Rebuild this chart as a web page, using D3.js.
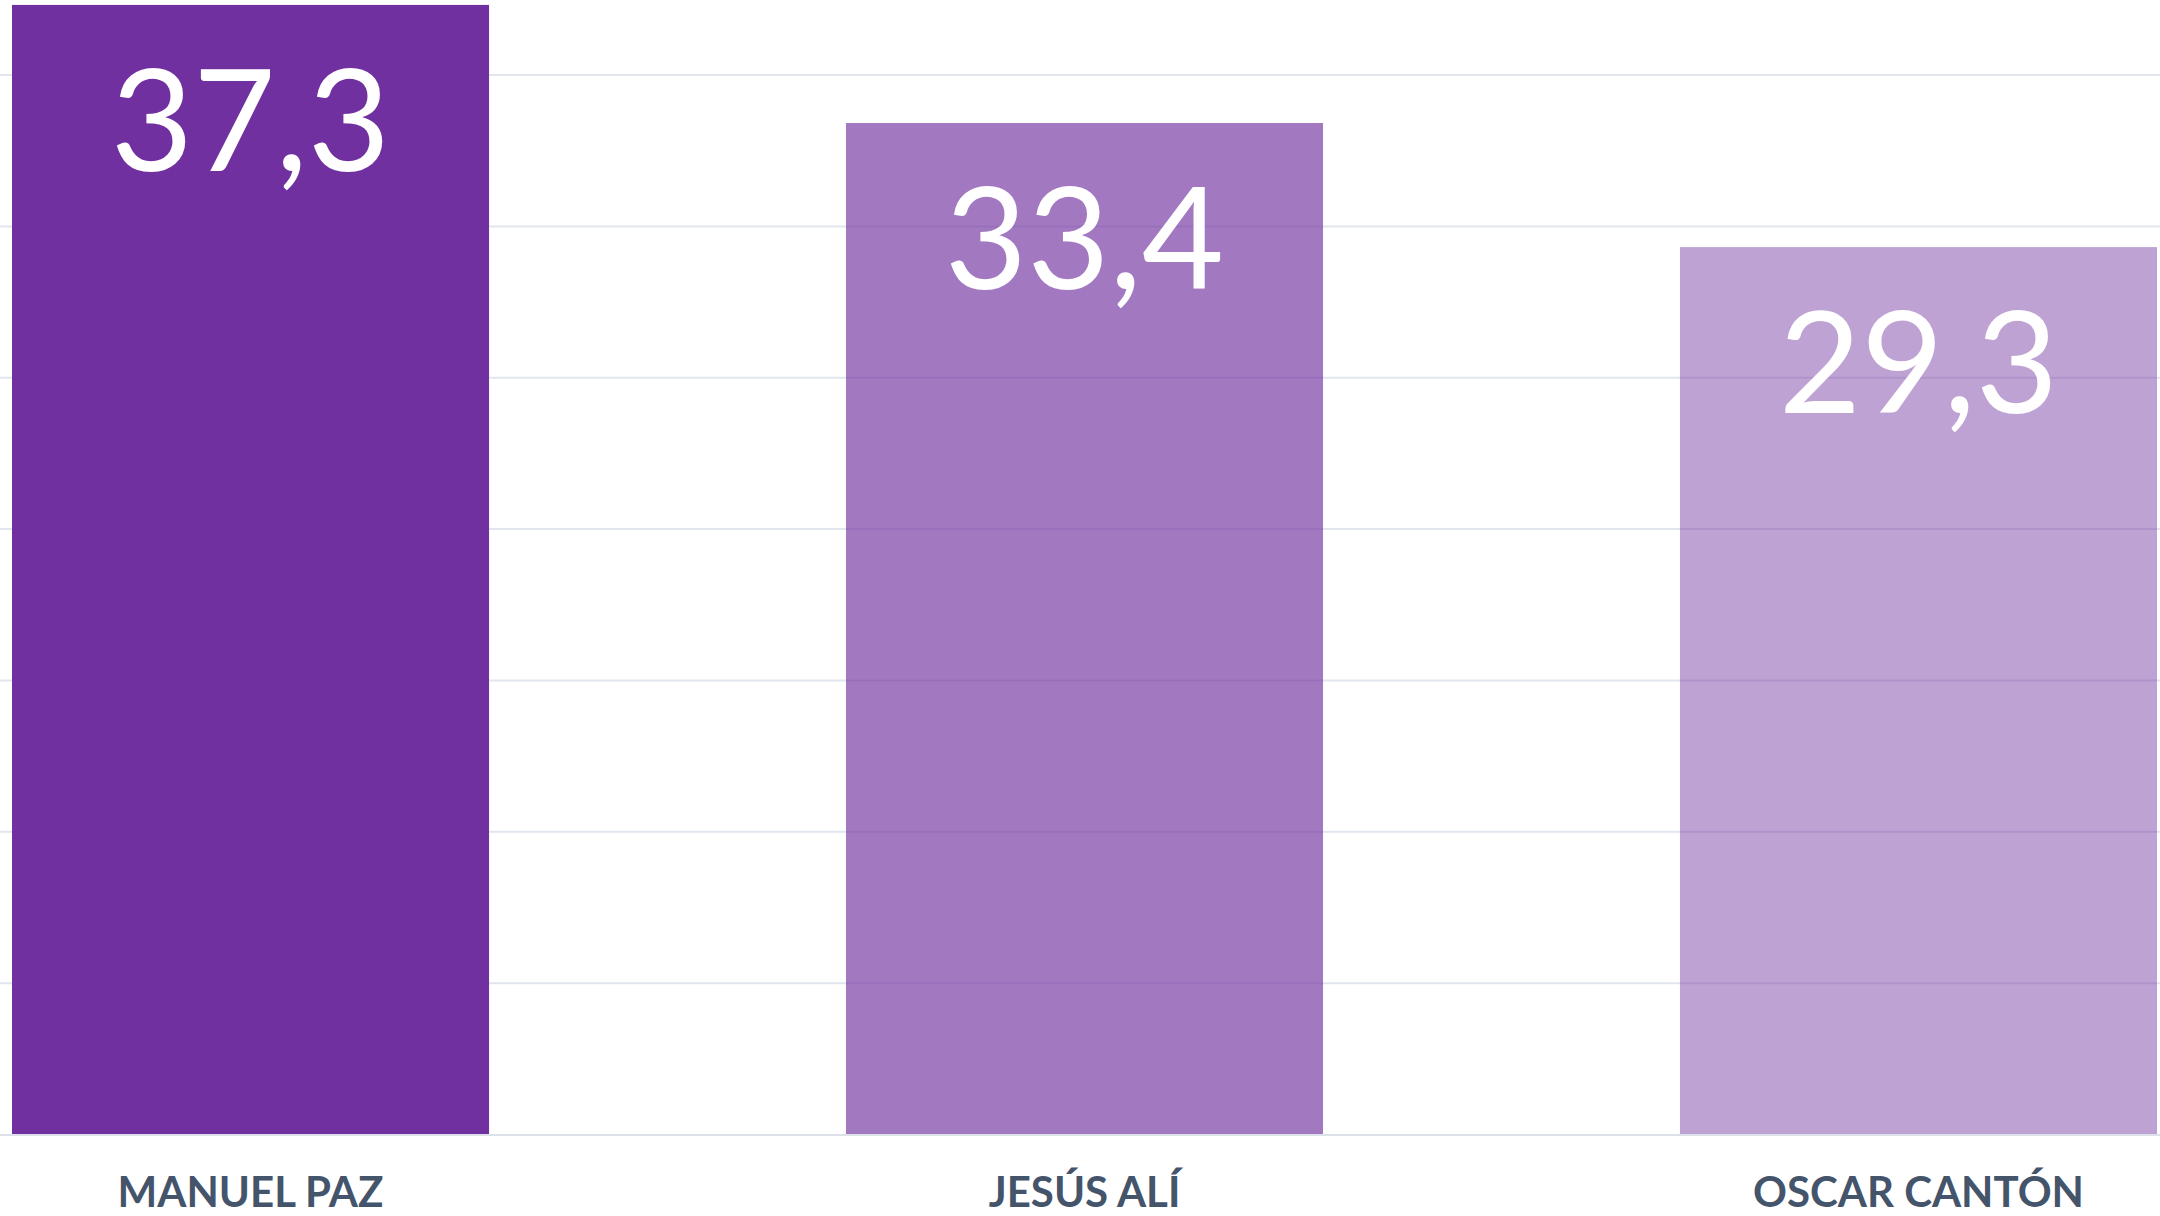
<!DOCTYPE html>
<html>
<head>
<meta charset="utf-8">
<script src="https://cdn.jsdelivr.net/npm/d3@7"></script>
<style>
  html, body { margin: 0; padding: 0; background: #fff; }
  .value-label { font-family: Lato, "Open Sans", sans-serif; fill: #fff; }
  .cat-label { font-family: Lato, "Open Sans", sans-serif; font-weight: 700; fill: #44546a; }
</style>
</head>
<body>
<div id="chart"></div>
<script>
// data
let candidates = ['MANUEL PAZ', 'JESÚS ALÍ', 'OSCAR CANTÓN'];
let votes = [37.3, 33.4, 29.3];
let yTicks = [0, 5, 10, 15, 20, 25, 30, 35];

function makeGraph() {
    let w = 2160,
        h = 1216;
    let baseY = 1134;

    let svg = d3.select('#chart')
        .append('svg')
        .attr('width', w)
        .attr('height', h);

    let xScale = d3.scaleBand()
        .domain(candidates)
        .range([12, 2157])
        .paddingInner(0.428)
        .paddingOuter(0);

    let yScale = d3.scaleLinear()
        .domain([0, 40])
        .range([baseY, baseY - 40 * 30.27]);

    // gridlines
    let yAxis = d3.axisLeft(yScale)
        .tickValues(yTicks.filter(d => d > 0))
        .tickSize(-w)
        .tickFormat('');
    let grid = svg.append('g')
        .call(yAxis);
    grid.select('.domain').remove();
    grid.selectAll('.tick line')
        .attr('x1', 0)
        .attr('x2', w)
        .attr('stroke', '#e1e6ee')
        .attr('stroke-width', 2);

    let opac = [1, 0.65, 0.45];
    let rows = candidates.map((c, i) => ({ name: c, value: votes[i], op: opac[i] }));

    svg.selectAll('.bar')
        .data(rows)
        .enter()
        .append('rect')
        .attr('class', 'bar')
        .attr('x', d => xScale(d.name))
        .attr('y', d => yScale(d.value))
        .attr('width', xScale.bandwidth())
        .attr('height', d => yScale(0) - yScale(d.value))
        .attr('fill', '#7030a0')
        .attr('fill-opacity', d => d.op);

    // baseline
    let xAxis = d3.axisBottom(xScale).tickSize(0).tickFormat('');
    let xg = svg.append('g')
        .attr('transform', `translate(0, ${baseY})`)
        .call(xAxis);
    xg.select('.domain')
        .attr('d', `M0,1H${w}`)
        .attr('stroke', '#dde2ea')
        .attr('stroke-width', 2);

    svg.selectAll('.value-label')
        .data(rows)
        .enter()
        .append('text')
        .attr('class', 'value-label')
        .attr('x', d => xScale(d.name) + xScale.bandwidth() / 2)
        .attr('y', d => yScale(d.value) + 166)
        .attr('text-anchor', 'middle')
        .attr('font-size', 142)
        .text(d => d3.format('.1f')(d.value).replace('.', ','));

    svg.selectAll('.cat-label')
        .data(rows)
        .enter()
        .append('text')
        .attr('class', 'cat-label')
        .attr('x', d => xScale(d.name) + xScale.bandwidth() / 2)
        .attr('y', 1207)
        .attr('text-anchor', 'middle')
        .attr('font-size', 42)
        .text(d => d.name);
}

window.onload = () => {
    makeGraph();
};
</script>
</body>
</html>
